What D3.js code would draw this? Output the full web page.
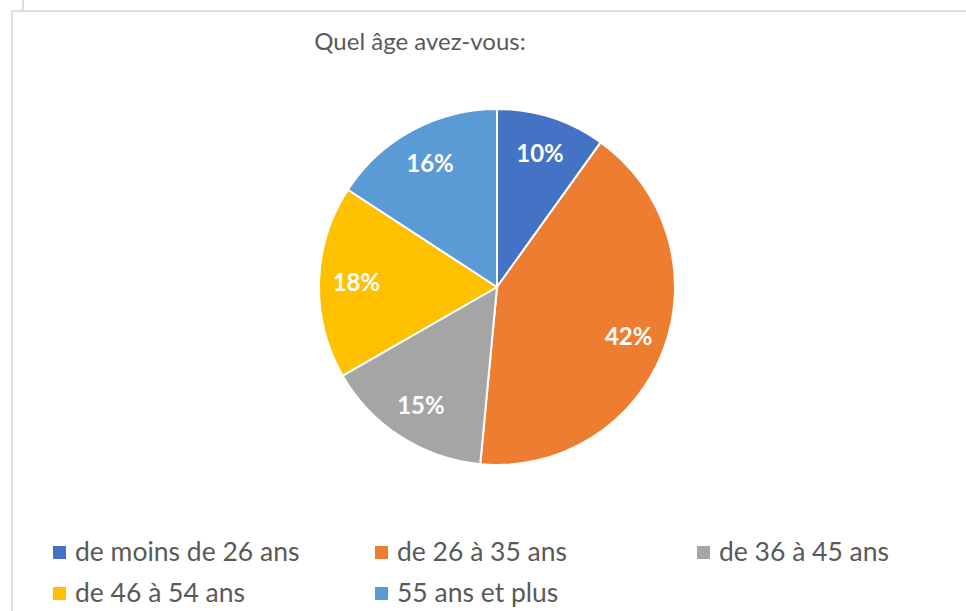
<!DOCTYPE html>
<html>
<head>
<meta charset="utf-8">
<script src="https://cdn.jsdelivr.net/npm/d3@7"></script>
<style>
  body { margin: 0; background: #fff; }
  svg { display: block; font-family: Lato, "Open Sans", sans-serif; }
</style>
</head>
<body>
<div id="chart"></div>
<script>
// Data
const categories = ["de moins de 26 ans", "de 26 à 35 ans", "de 36 à 45 ans", "de 46 à 54 ans", "55 ans et plus"];
const shares = [9.9, 41.6, 15.2, 17.5, 15.8];
const labels = ["10%", "42%", "15%", "18%", "16%"];
const colors = ["#4472c4", "#ed7d31", "#a5a5a5", "#ffc000", "#5b9bd5"];
const title = "Quel âge avez-vous:";

const width = 966, height = 611;
const cx = 497, cy = 287, radius = 178;

const svg = d3.select("#chart")
    .append("svg")
    .attr("width", width)
    .attr("height", height);

// Frame lines from the original screenshot
svg.append("path")
    .attr("d", "M12,611 V11 H966 M23,0 V11")
    .attr("fill", "none")
    .attr("stroke", "#dedede")
    .attr("stroke-width", 2);

// Title
svg.append("text")
    .attr("x", 420)
    .attr("y", 42)
    .attr("dy", "0.35em")
    .attr("text-anchor", "middle")
    .attr("fill", "#595959")
    .attr("font-size", 24)
    .text(title);

// Pie
const pie = d3.pie().sort(null).value(d => d);
const arc = d3.arc().innerRadius(0).outerRadius(radius);
const labelArc = d3.arc().innerRadius(radius * 0.79).outerRadius(radius * 0.79);

const g = svg.append("g")
    .attr("transform", `translate(${cx},${cy})`);

const slices = pie(shares);

g.selectAll("path")
    .data(slices)
    .join("path")
    .attr("d", arc)
    .attr("fill", (d, i) => colors[i])
    .attr("stroke", "#fff")
    .attr("stroke-width", 2);

g.selectAll("text")
    .data(slices)
    .join("text")
    .attr("transform", d => `translate(${labelArc.centroid(d)})`)
    .attr("text-anchor", "middle")
    .attr("dy", "0.35em")
    .attr("fill", "#fff")
    .attr("font-weight", "bold")
    .attr("font-size", 24)
    .text((d, i) => labels[i]);

// Legend
const legendX = [53, 375, 697];
const legendY = [552, 593];

const legend = svg.selectAll(".legend")
    .data(categories)
    .join("g")
    .attr("class", "legend")
    .attr("transform", (d, i) => `translate(${legendX[i % 3]},${legendY[Math.floor(i / 3)]})`);

legend.append("rect")
    .attr("x", 0)
    .attr("y", -6)
    .attr("width", 13)
    .attr("height", 13)
    .attr("fill", (d, i) => colors[i]);

legend.append("text")
    .attr("x", 22)
    .attr("y", 0)
    .attr("dy", "0.35em")
    .attr("fill", "#595959")
    .attr("font-size", 26.5)
    .text(d => d);
</script>
</body>
</html>
